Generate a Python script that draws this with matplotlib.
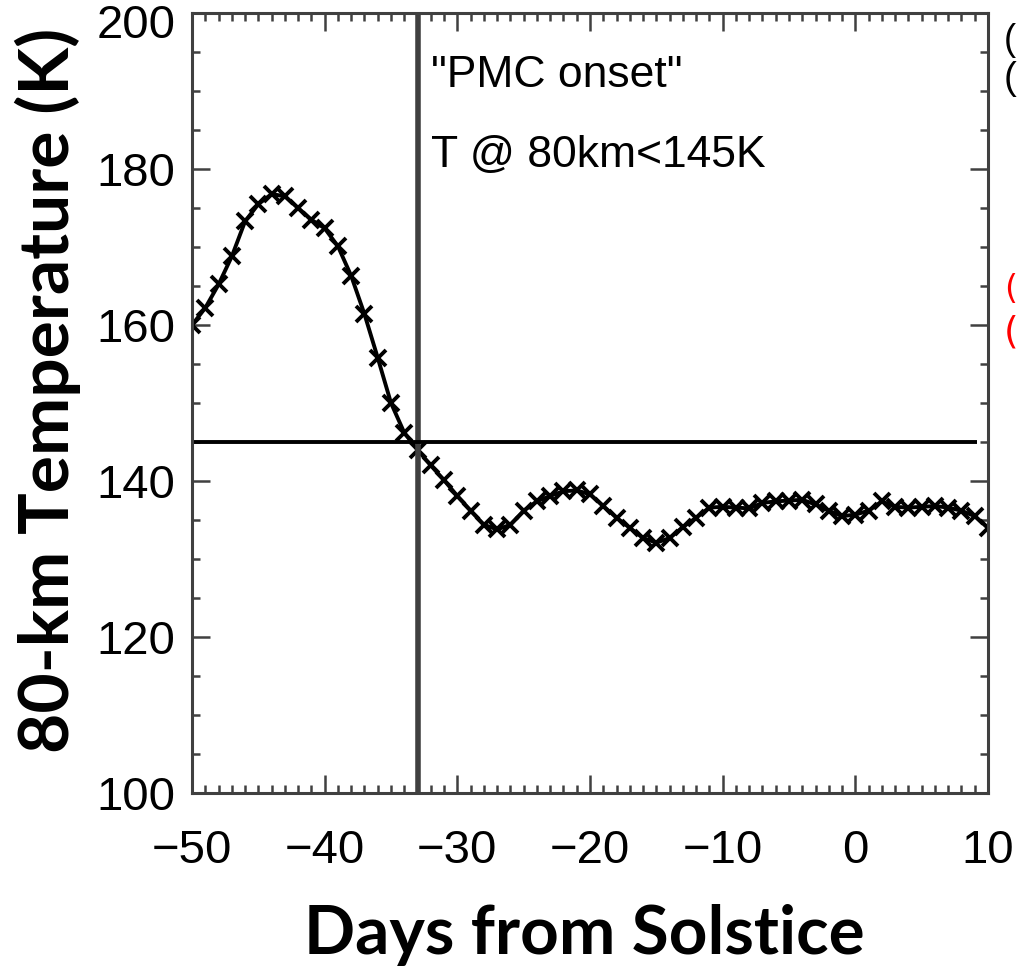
import matplotlib
matplotlib.use("Agg")
import matplotlib.pyplot as plt
from matplotlib.ticker import MultipleLocator
from matplotlib.transforms import ScaledTranslation
import numpy as np

# temperature at 80 km, one value per day
days = list(range(-50, 11))
temps = [160.0, 162.2, 165.2, 168.8, 173.3, 175.5, 176.8, 176.5, 175.0, 173.5,
         172.4, 170.1, 166.3, 161.4, 155.8, 150.0, 146.2, 144.0, 142.0, 140.1,
         138.1, 136.2, 134.4, 133.8, 134.4, 136.2, 137.4, 138.1, 138.7, 138.8,
         138.3, 136.8, 135.3, 134.0, 132.7, 132.1, 132.7, 134.1, 135.3, 136.6,
         136.7, 136.6, 136.5, 137.2, 137.4, 137.5, 137.6, 137.0, 136.2, 135.5,
         135.7, 136.2, 137.4, 136.7, 136.6, 136.7, 136.8, 136.6, 136.2, 135.5,
         134.0]
onset_day = -33
threshold = 145
xticks = [-50, -40, -30, -20, -10, 0, 10]
yticks = [100, 120, 140, 160, 180, 200]

fig = plt.figure(figsize=(10.17, 9.66), dpi=100)
ax = fig.add_axes([0.1888, 0.179, 0.7827, 0.8075])

ax.plot(days, temps, color="black", lw=2.8, marker="x", ms=11, mew=2.8)
ax.axvline(onset_day, color="#404040", lw=4)
ax.hlines(threshold, -50, 9.2, color="black", lw=2.8)

ax.set_xlim(-50, 10)
ax.set_ylim(100, 200)
ax.set_xticks(xticks)
ax.set_yticks(yticks)
ax.xaxis.set_minor_locator(MultipleLocator(1))
ax.yaxis.set_minor_locator(MultipleLocator(5))
ax.tick_params(which="both", direction="in", top=True, right=True,
               color="#404040", width=1.8)
ax.tick_params(which="major", length=13)
ax.tick_params(which="minor", length=6)
ax.tick_params(axis="x", which="major", pad=26)
ax.tick_params(axis="y", which="major", pad=12)
for lab in ax.get_xticklabels() + ax.get_yticklabels():
    lab.set_fontfamily("Liberation Sans")
    lab.set_fontsize(34)
# top label sits a little lower, as in the original
top_lab = ax.get_yticklabels()[-1]
top_lab.set_transform(top_lab.get_transform() +
                      ScaledTranslation(0, -6 / 72, fig.dpi_scale_trans))
for s in ax.spines.values():
    s.set_color("#404040")
    s.set_linewidth(2.2)

ax.text(-32.0, 192.0, '"PMC onset"', fontsize=32, family="Liberation Sans",
        va="center", ha="left")
ax.text(-32.0, 181.7, "T @ 80km<145K", fontsize=32, family="Liberation Sans",
        va="center", ha="left")

fig.text(0.575, 0.032, "Days from Solstice", fontsize=48.5, fontweight="bold",
         family="Lato", ha="center", va="center")
fig.text(0.047, 0.596, "80-km Temperature (K)", fontsize=50, fontweight="bold",
         family="Lato", ha="center", va="center", rotation=90)

# text fragments at the right edge
fig.text(0.987, 0.958, "(", fontsize=26, family="Liberation Sans", va="center")
fig.text(0.987, 0.918, "(", fontsize=28, family="Liberation Sans", va="center")
fig.text(0.987, 0.700, "(", fontsize=24, color="red", va="center")
fig.text(0.987, 0.656, "(", fontsize=27, color="red", va="center")

fig.savefig("out.png", dpi=100)
